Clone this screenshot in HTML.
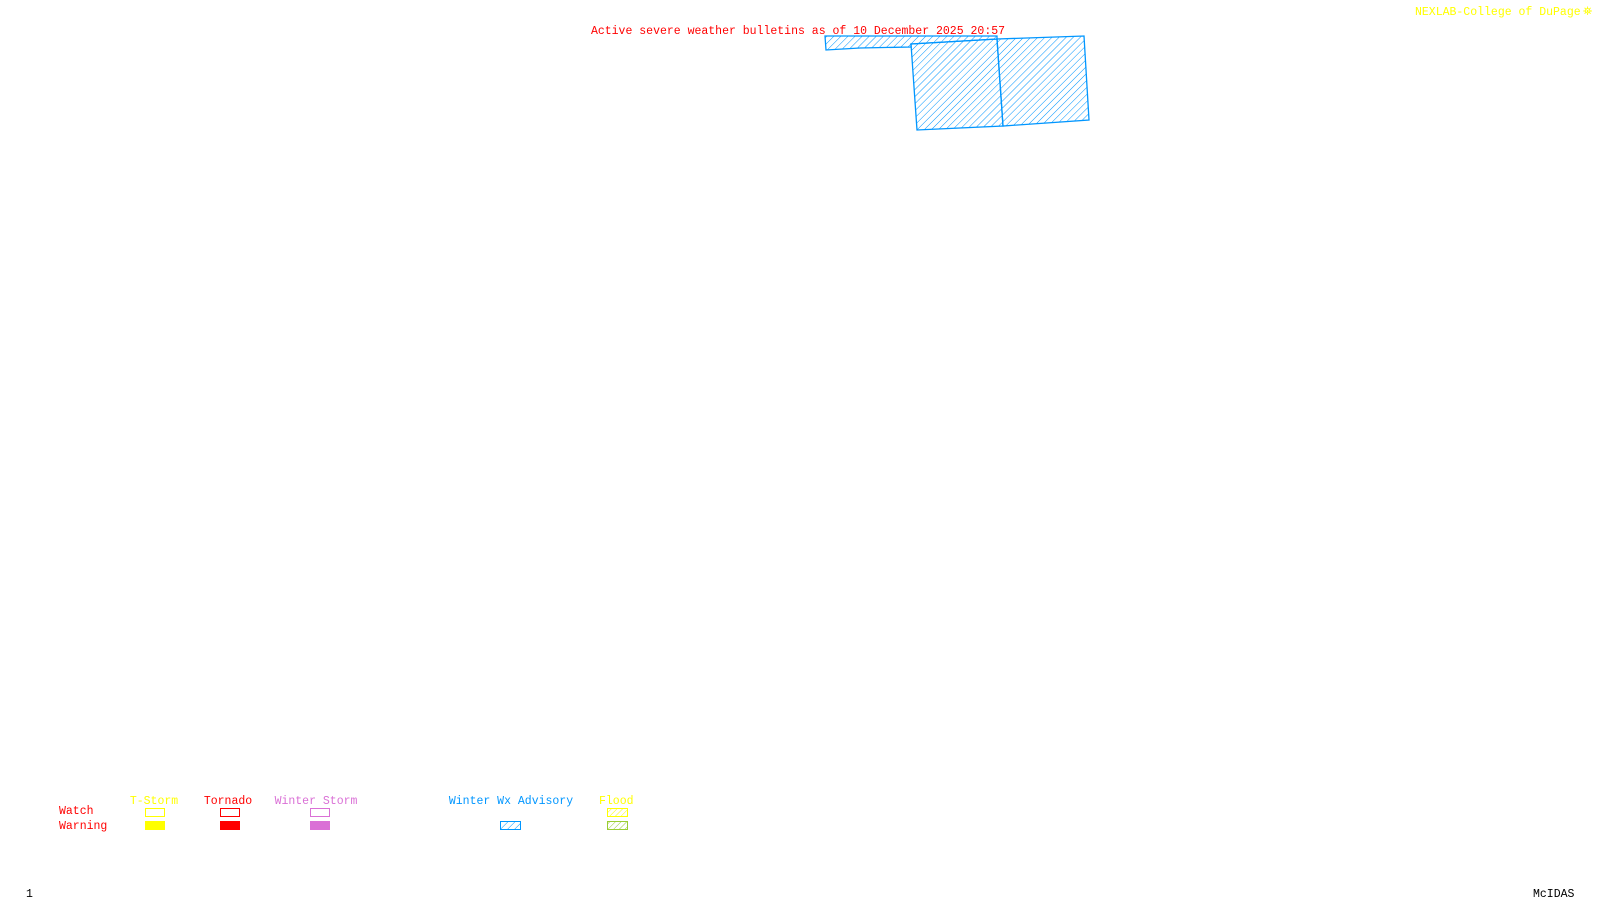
<!DOCTYPE html>
<html><head><meta charset="utf-8"><style>
html,body{margin:0;padding:0;background:#fff;width:1600px;height:900px;overflow:hidden}
svg{display:block}
text{font-family:"Liberation Mono",monospace;font-size:11.5px}
</style></head><body>
<svg width="1600" height="900" viewBox="0 0 1600 900" xmlns="http://www.w3.org/2000/svg">
<defs>
<pattern id="hb" width="5" height="5" patternUnits="userSpaceOnUse" patternTransform="rotate(45)">
<line x1="0" y1="0" x2="0" y2="5" stroke="#0096ff" stroke-width="1"/></pattern>
<pattern id="hy" width="4" height="4" patternUnits="userSpaceOnUse" patternTransform="rotate(45)">
<line x1="0" y1="0" x2="0" y2="4" stroke="#ffff00" stroke-width="1"/></pattern>
<pattern id="hg" width="4" height="4" patternUnits="userSpaceOnUse" patternTransform="rotate(45)">
<line x1="0" y1="0" x2="0" y2="4" stroke="#9acd32" stroke-width="1"/></pattern>
</defs>
<g fill="url(#hb)" stroke="#0096ff" stroke-width="1.3">
<polygon points="825,36 997,36 997,39 911,44 911,47 860,48 826,50"/>
<polygon points="911,44 997,39 1003,126 917,130"/>
<polygon points="997,39 1084,36 1089,120 1003,126"/>
</g>
<text x="798" y="34" fill="#ff0000" text-anchor="middle">Active severe weather bulletins as of 10 December 2025 20:57</text>
<text x="1415" y="15" fill="#ffff00">NEXLAB-College of DuPage</text>
<text x="1583" y="15" fill="#ffff00">⛯</text>
<text x="59" y="814" fill="#ff0000">Watch</text>
<text x="59" y="829" fill="#ff0000">Warning</text>
<text x="154" y="804" fill="#ffff00" text-anchor="middle">T-Storm</text>
<text x="228" y="804" fill="#ff0000" text-anchor="middle">Tornado</text>
<text x="316" y="804" fill="#da70d6" text-anchor="middle">Winter Storm</text>
<text x="511" y="804" fill="#0096ff" text-anchor="middle">Winter Wx Advisory</text>
<text x="599" y="804" fill="#ffff00">Flood</text>
<rect x="145.5" y="808.5" width="19" height="8" fill="none" stroke="#ffff00"/>
<rect x="145" y="821" width="20" height="9" fill="#ffff00"/>
<rect x="220.5" y="808.5" width="19" height="8" fill="none" stroke="#ff0000"/>
<rect x="220" y="821" width="20" height="9" fill="#ff0000"/>
<rect x="310.5" y="808.5" width="19" height="8" fill="none" stroke="#da70d6"/>
<rect x="310" y="821" width="20" height="9" fill="#da70d6"/>
<rect x="500.5" y="821.5" width="20" height="8" fill="url(#hb)" stroke="#0096ff"/>
<rect x="607.5" y="808.5" width="20" height="8" fill="url(#hy)" stroke="#ffff00"/>
<rect x="607.5" y="821.5" width="20" height="8" fill="url(#hg)" stroke="#9acd32"/>
<text x="26" y="897" fill="#000">1</text>
<text x="1533" y="897" fill="#000">McIDAS</text>
</svg>
</body></html>
